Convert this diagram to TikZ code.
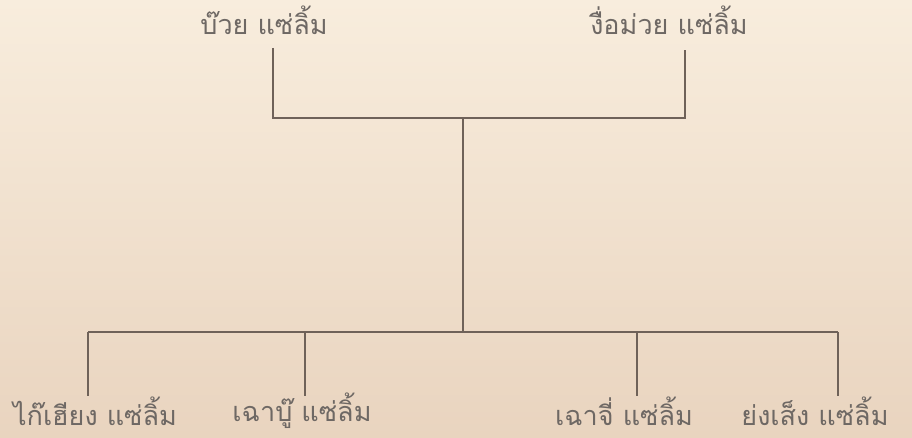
\documentclass[tikz,border=0pt]{standalone}
\usepackage{fontspec}
\newfontfamily\thaifont[Script=Thai]{Loma}
\definecolor{bgtop}{HTML}{F8EDDD}
\definecolor{bgbot}{HTML}{E9D4BF}
\definecolor{linec}{HTML}{6F6259}
\definecolor{textc}{HTML}{6E6864}
\begin{document}
\begin{tikzpicture}[x=1pt,y=-1pt,
  person/.style={font=\thaifont\fontsize{27}{30}\selectfont, text=textc, inner sep=0pt, anchor=center},
  link/.style={draw=linec, line width=2pt}]
\shade[top color=bgtop, bottom color=bgbot] (0,0) rectangle (912,438);
\useasboundingbox (0,0) rectangle (912,438);
\node[person] (p1) at (264,20) {บ๊วย แซ่ลิ้ม};
\node[person] (p2) at (669,20) {งื่อม่วย แซ่ลิ้ม};
\node[person] (c1) at (95,411) {ไก๊เฮียง แซ่ลิ้ม};
\node[person] (c2) at (302,411) {เฉาบู๊ แซ่ลิ้ม};
\node[person] (c3) at (624,411) {เฉาจี่ แซ่ลิ้ม};
\node[person] (c4) at (815,411) {ย่งเส็ง แซ่ลิ้ม};
\coordinate (j1) at (273,118);
\coordinate (j2) at (685,118);
\coordinate (jm) at (463,118);
\coordinate (b0) at (463,332);
\coordinate (b1) at (88,332);
\coordinate (b2) at (305,332);
\coordinate (b3) at (637,332);
\coordinate (b4) at (838,332);
\coordinate (t1) at (273,48);
\coordinate (t2) at (685,50);
\draw[link] (t1) -- (j1) -- (j2) -- (t2);
\draw[link] (jm) -- (b0);
\draw[link] (b1) -- (b4);
\foreach \b in {b1,b2,b3,b4}{\draw[link] (\b) -- ++(0,64);}
\end{tikzpicture}
\end{document}
